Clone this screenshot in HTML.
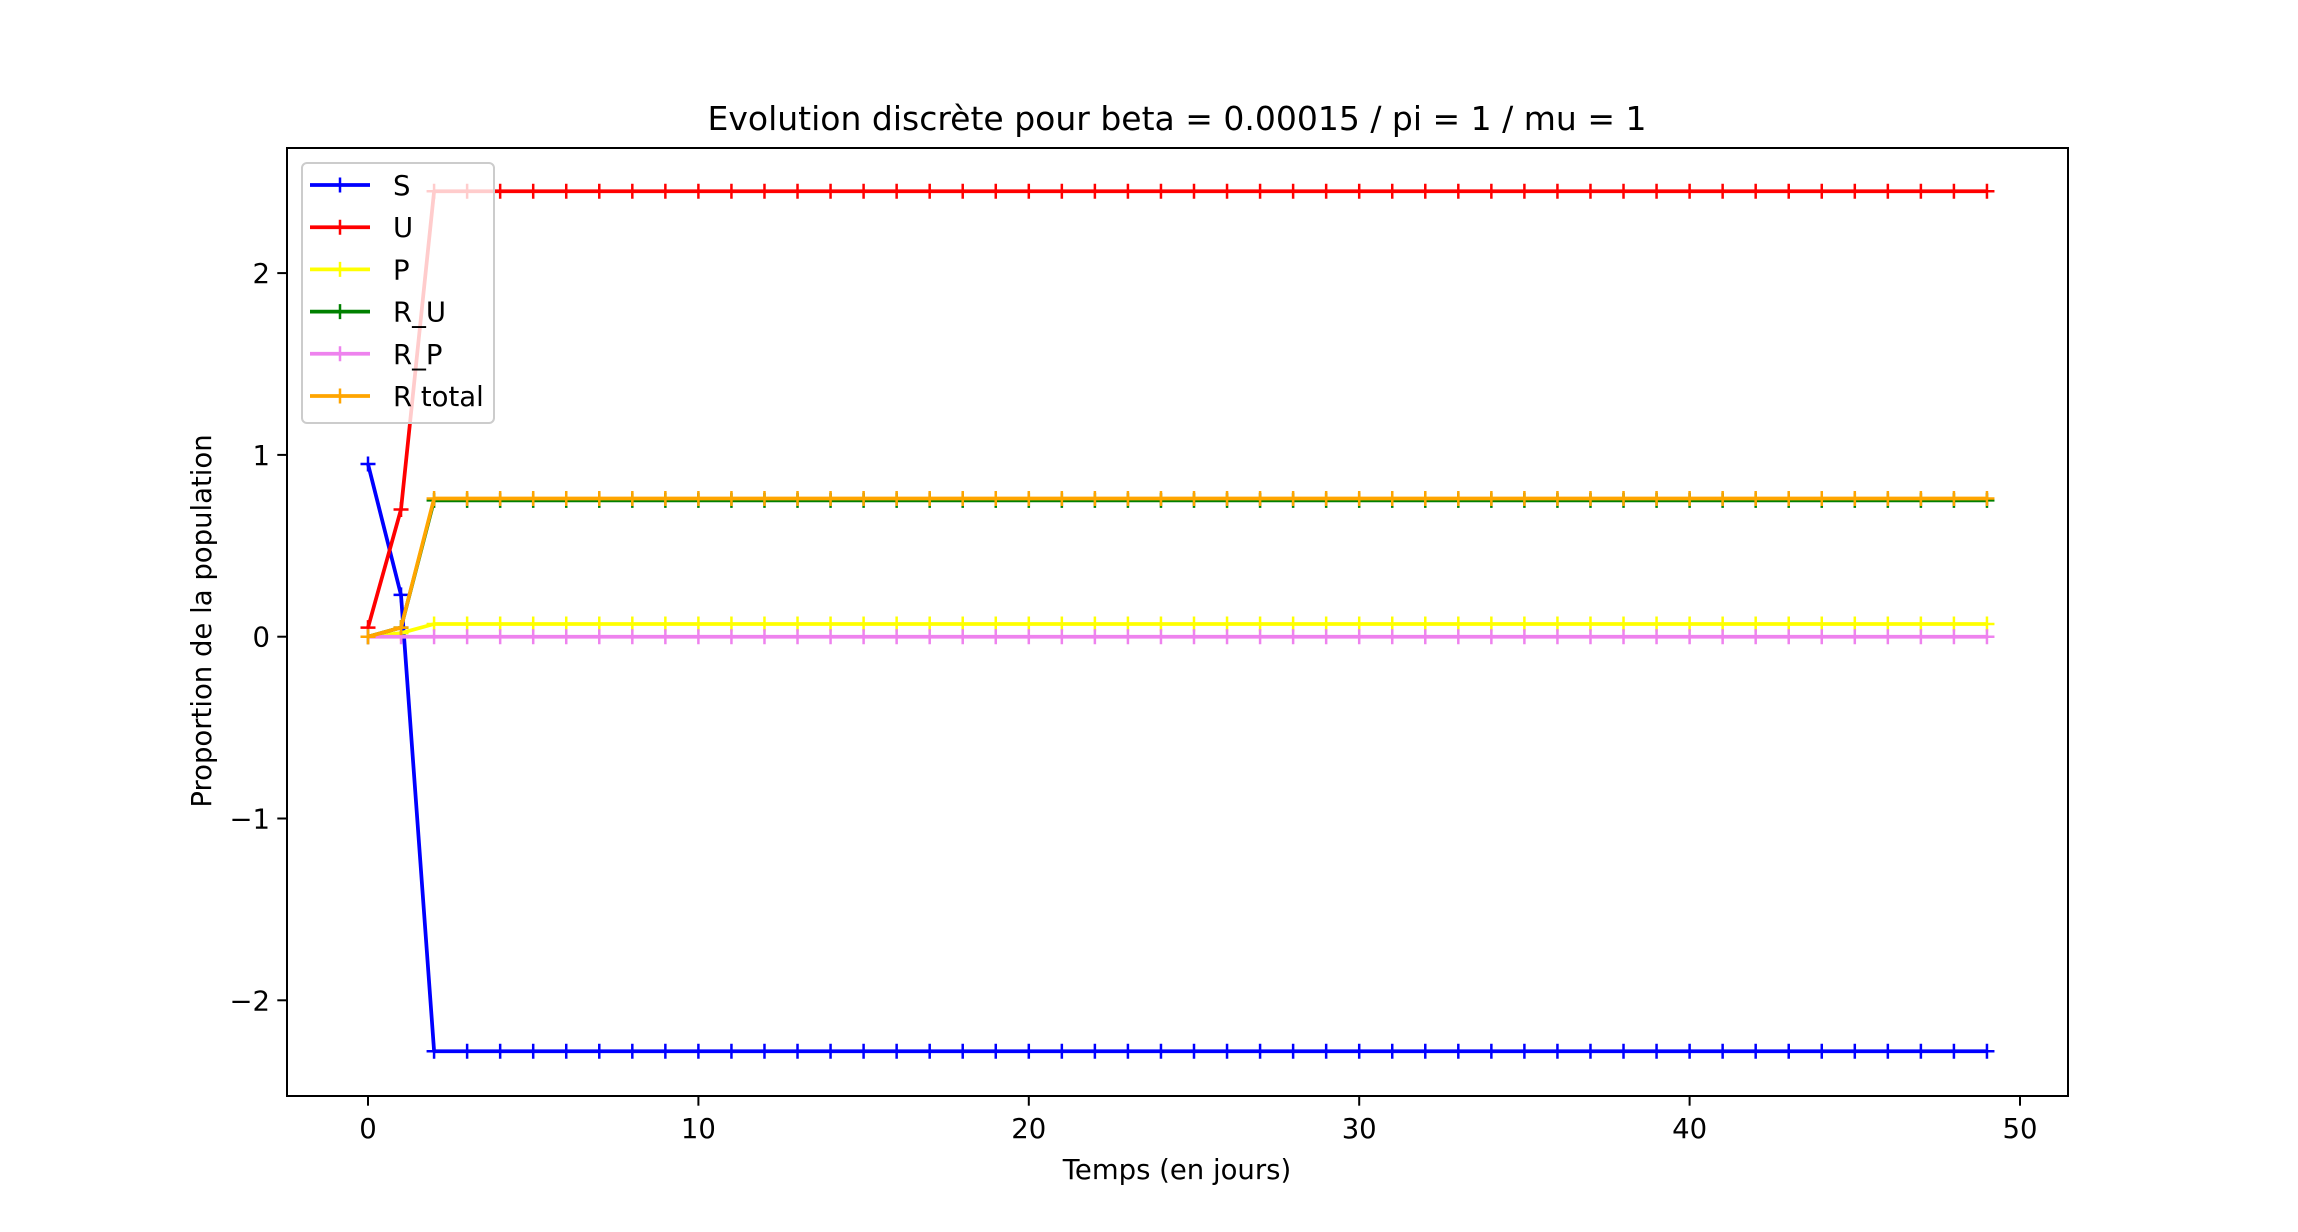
<!DOCTYPE html>
<html><head><meta charset="utf-8"><style>
html,body{margin:0;padding:0;background:#fff;}
svg{display:block;font-family:"DejaVu Sans","Liberation Sans",sans-serif;}
</style></head><body>
<svg id="chart" width="2298" height="1232" viewBox="0 0 2298 1232" xmlns="http://www.w3.org/2000/svg">
<rect width="2298" height="1232" fill="#fff"/>
<text x="1177" y="130" font-size="33" text-anchor="middle">Evolution discrète pour beta = 0.00015 / pi = 1 / mu = 1</text>
<text x="1177" y="1179" font-size="27.5" text-anchor="middle">Temps (en jours)</text>
<text transform="translate(211,621) rotate(-90)" font-size="27.5" text-anchor="middle">Proportion de la population</text>
<g id="plot"></g>
</svg>
<script>
const days = Array.from({length:50}, (_, i) => i);
const sHead = [0.95, 0.23];
const sTail = -2.28;
const uHead = [0.05, 0.70];
const uTail = 2.45;
const pHead = [0.0, 0.02];
const pTail = 0.07;
const ruHead = [0.0, 0.05];
const ruTail = 0.75;
const rpHead = [0.0, 0.0];
const rpTail = 0.0;
const rtHead = [0.0, 0.05];
const rtTail = 0.76;
const xTicks = [0, 10, 20, 30, 40, 50];
const yTicks = [-2, -1, 0, 1, 2];
const seriesNames = ["S", "U", "P", "R_U", "R_P", "R total"];
const seriesColors = ["#0000ff", "#ff0000", "#ffff00", "#008000", "#ee82ee", "#ffa500"];

function build(head, tail){ return days.map((d,i)=> i < head.length ? head[i] : tail); }
const seriesVals = [build(sHead,sTail), build(uHead,uTail), build(pHead,pTail), build(ruHead,ruTail), build(rpHead,rpTail), build(rtHead,rtTail)];

const L=287, R=2068, T=148, B=1096;
const x = v => 368 + v * 33.04;
const y = v => 636.7 - v * 181.8;
const NS="http://www.w3.org/2000/svg";
const g=document.getElementById('plot');
function el(tag, attrs, parent){ const e=document.createElementNS(NS,tag); for(const k in attrs) e.setAttribute(k,attrs[k]); (parent||g).appendChild(e); return e; }

seriesVals.forEach((vals, si) => {
  const sg = el('g', {});
  
  
  const pts = vals.map((v,i)=> x(days[i]).toFixed(1)+','+y(v).toFixed(1)).join(' ');
  el('polyline', {points:pts, fill:'none', stroke:seriesColors[si], 'stroke-width':3.75, 'stroke-linejoin':'round'}, sg);
  vals.forEach((v,i)=>{
    const cx=x(days[i]), cy=y(v);
    const m = el('path', {d:`M${cx-7.5},${cy}H${cx+7.5}M${cx},${cy-7.5}V${cy+7.5}`, stroke:seriesColors[si], 'stroke-width':2.5}, sg);
    
    
  });
});

const frame = el('rect', {x:L, y:T, width:R-L, height:B-T, fill:'none', stroke:'#000', 'stroke-width':2});



xTicks.forEach(t=>{
  el('line', {x1:x(t), x2:x(t), y1:B, y2:B+9.7, stroke:'#000', 'stroke-width':2});
  const tx = el('text', {x:x(t), y:1138, 'font-size':27.5, 'text-anchor':'middle'});
  tx.textContent = t;
  
  
});
yTicks.forEach(t=>{
  el('line', {x1:L-9.7, x2:L, y1:y(t), y2:y(t), stroke:'#000', 'stroke-width':2});
  const tx = el('text', {x:L-17, y:y(t)+10, 'font-size':27.5, 'text-anchor':'end'});
  tx.textContent = t < 0 ? '\u2212' + Math.abs(t) : t;
  
  
});

const lg = el('g', {});


el('rect', {x:302, y:163, width:192, height:260, rx:5, fill:'#fff', 'fill-opacity':0.8, stroke:'#cccccc', 'stroke-width':2}, lg);
seriesNames.forEach((n,i)=>{
  const ey = 185 + i*42.2;
  const eg = el('g', {}, lg);
  
  
  el('line', {x1:310, x2:370, y1:ey, y2:ey, stroke:seriesColors[i], 'stroke-width':3.75}, eg);
  el('path', {d:`M332.5,${ey}H347.5M340,${ey-7.5}V${ey+7.5}`, stroke:seriesColors[i], 'stroke-width':2.5}, eg);
  const tx = el('text', {x:393, y:ey+10, 'font-size':27.5}, eg);
  tx.textContent = n;
});
</script>
</body></html>
